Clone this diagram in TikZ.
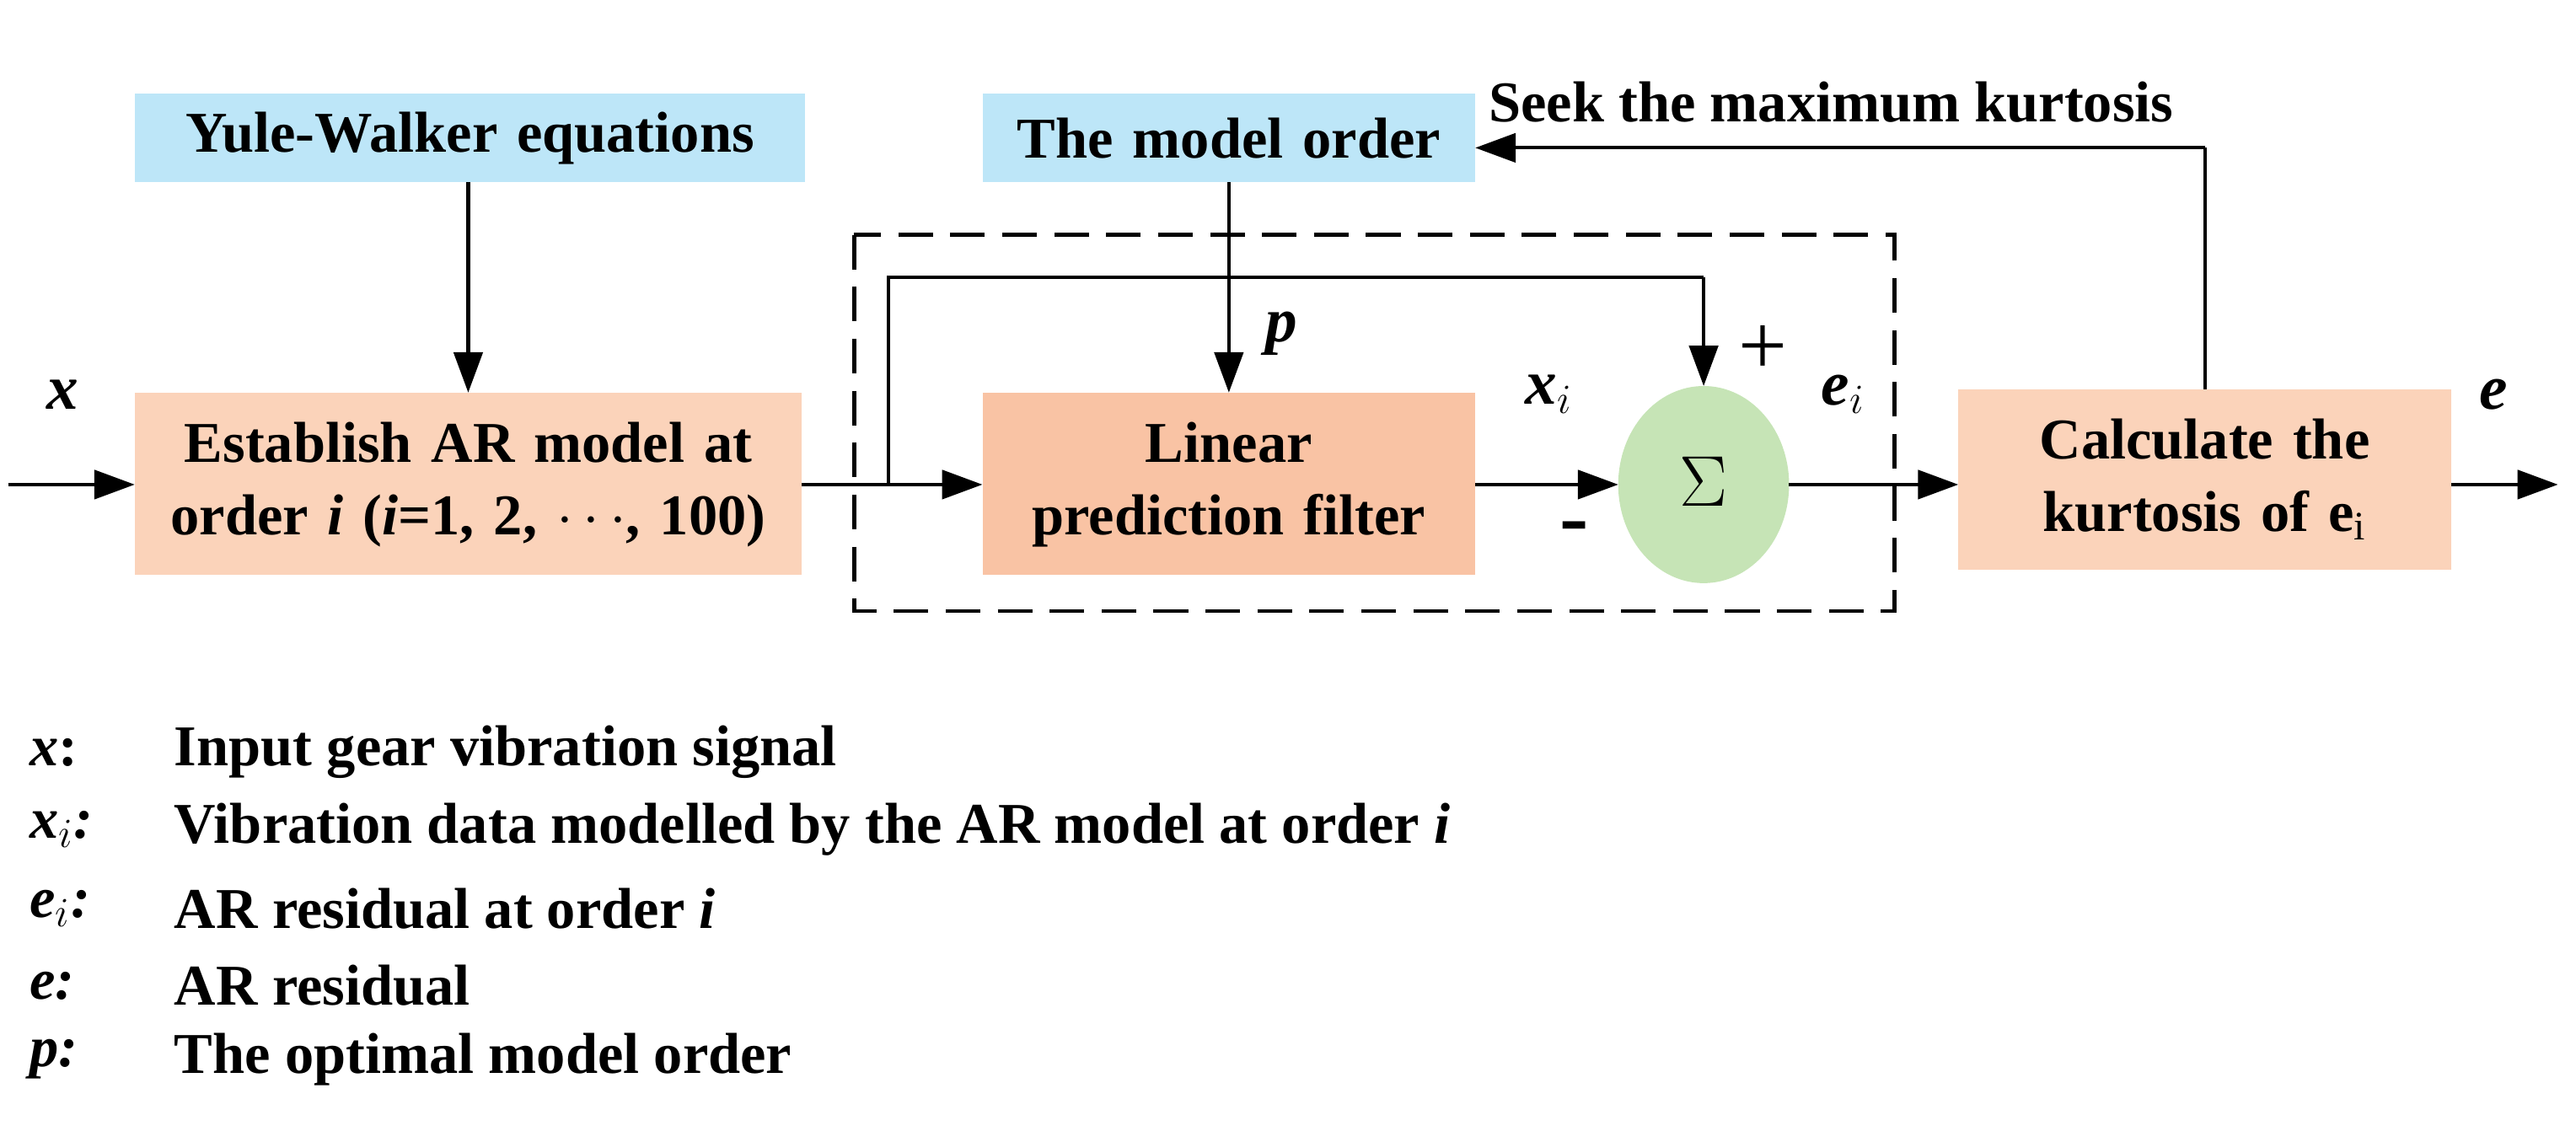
\documentclass[tikz,border=0pt]{standalone}
\usepackage{fontspec}
\setmainfont{Liberation Serif}
\usetikzlibrary{arrows.meta}
\definecolor{lblue}{HTML}{BDE6F8}
\definecolor{peach}{HTML}{FBD3BA}
\definecolor{peach2}{HTML}{F9C3A4}
\definecolor{lgreen}{HTML}{C6E4B6}
\begin{document}
\begin{tikzpicture}[x=0.02cm,y=-0.02cm,
  txt/.style={font=\fontsize{20}{25}\selectfont\bfseries},
  box/.style={txt,inner sep=0,align=center,text width=#1},
  arr/.style={-{Triangle[length=14pt,width=10pt]},line width=1.2pt},
  ln/.style={line width=1.2pt}]
\useasboundingbox (0,0) rectangle (1568,685);
\fill[lblue] (82,57) rectangle (490,111);
\node[box=400] (yw) at (286,84) {Yule-Walker equations};
\fill[lblue] (598,57) rectangle (898,111);
\node[box=300] (mo) at (748,84) {The model order};
\fill[peach] (82,239) rectangle (488,350);
\node[box=400] (ar) at (285,295) {Establish AR model at\\order \textit{i} (\textit{i}=1, 2, $\cdots$, 100)};
\fill[peach2] (598,239) rectangle (898,350);
\node[box=300] (lp) at (748,295) {Linear\\prediction filter};
\fill[peach] (1192,237) rectangle (1492,347);
\node[box=300] (ck) at (1342,292) {Calculate the\\kurtosis of e$_{\mathrm{i}}$};
\fill[lgreen] (1037,295) ellipse (52 and 60);
\node[font=\fontsize{26}{30}\selectfont] (sg) at (1037,293) {$\Sigma$};
\draw[dashed,line width=1.4pt,dash pattern=on 12pt off 6pt] (520,143) rectangle (1153,372);
\coordinate (in) at (5,295);
\coordinate (out) at (1557,295);
\coordinate (br) at (541,295);
\draw[arr] (in) -- (82,295);
\draw[arr] (1492,295) -- (out);
\draw[arr] (488,295) -- (598,295);
\draw[ln] (br) -- (541,169) -- (1037,169);
\draw[arr] (1037,169) -- (1037,235);
\draw[arr] (285,111) -- (285,239);
\draw[arr] (748,111) -- (748,239);
\draw[arr] (898,295) -- (985,295);
\draw[arr] (1089,295) -- (1192,295);
\draw[ln] (1342,237) -- (1342,90);
\draw[arr] (1342,90) -- (898,90);
\node[txt,anchor=west] (sk) at (900,62) {Seek the maximum kurtosis};
\node[txt,font=\fontsize{22}{25}\selectfont\bfseries\itshape] (lx) at (38,240) {x};
\node[txt,font=\fontsize{22}{25}\selectfont\bfseries\itshape] (lpp) at (780,203) {p};
\node[txt,font=\fontsize{22}{25}\selectfont\bfseries\itshape] (lxi) at (943,240) {x$_i$};
\node[txt,font=\fontsize{22}{25}\selectfont\bfseries\itshape] (lei) at (1122,240) {e$_i$};
\node[txt,font=\fontsize{22}{25}\selectfont\bfseries\itshape] (le) at (1518,240) {e};
\node[font=\fontsize{30}{30}\selectfont] (pl) at (1073,213) {+};
\node[font=\fontsize{30}{30}\selectfont\bfseries] (mi) at (958,325) {-};
\foreach \y/\s/\t [count=\k] in {458/{x}\textup{:}/{Input gear vibration signal},
  505/{x$_i$:}/{Vibration data modelled by the AR model at order \textit{i}},
  553/{e$_i$:}/{AR residual at order \textit{i}},
  600/{e:}/{AR residual},
  645/{p:}/{The optimal model order}}{
  \node[txt,anchor=west,font=\fontsize{20}{25}\selectfont\bfseries\itshape] (s\k) at (12,\y) {\s};
  \node[txt,anchor=west] (t\k) at (100,\y) {\t};
}
\end{tikzpicture}
\end{document}
